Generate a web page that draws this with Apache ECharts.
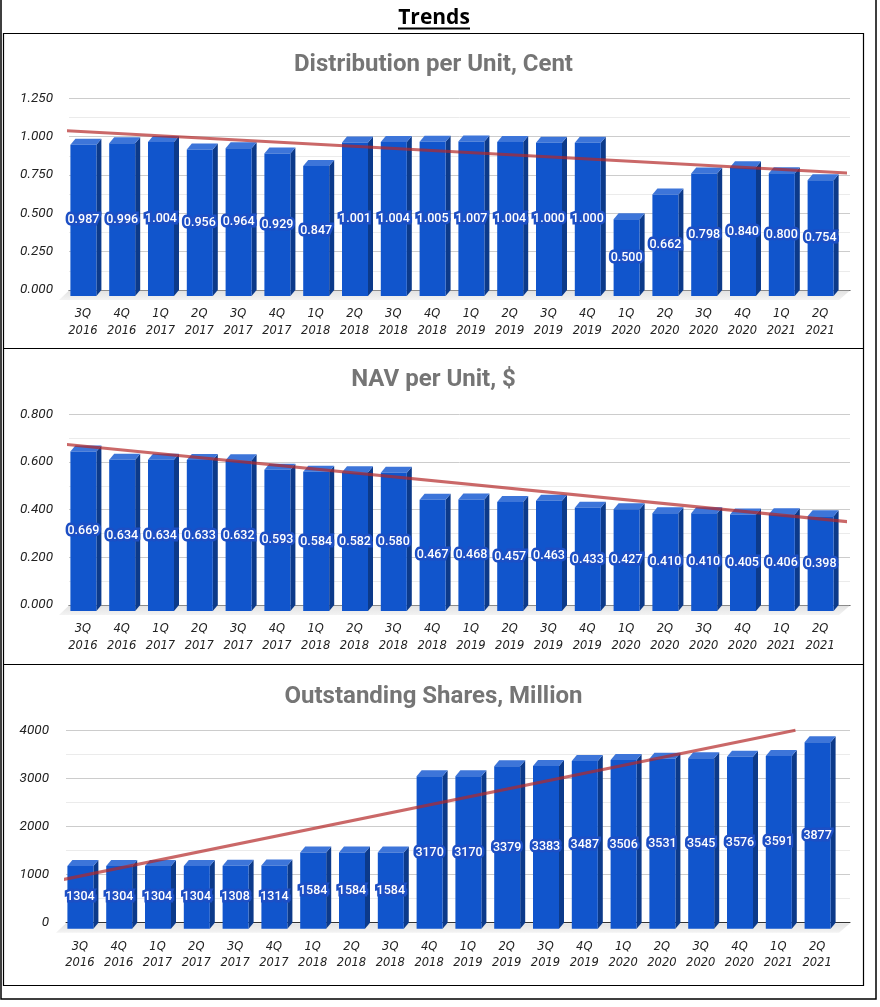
<!DOCTYPE html>
<html>
<head>
<meta charset="utf-8">
<script src="https://cdn.jsdelivr.net/npm/echarts@6/dist/echarts.min.js"></script>
<style>
  html, body { margin: 0; padding: 0; background: #fff; }
  #chart { width: 880px; height: 1007px; }
</style>
</head>
<body>
<div id="chart"></div>
<script>
const quarters = ['3Q 2016', '4Q 2016', '1Q 2017', '2Q 2017', '3Q 2017', '4Q 2017', '1Q 2018', '2Q 2018',
  '3Q 2018', '4Q 2018', '1Q 2019', '2Q 2019', '3Q 2019', '4Q 2019', '1Q 2020', '2Q 2020',
  '3Q 2020', '4Q 2020', '1Q 2021', '2Q 2021']

const distribution = [0.987, 0.996, 1.004, 0.956, 0.964, 0.929, 0.847, 1.001, 1.004, 1.005,
  1.007, 1.004, 1.000, 1.000, 0.500, 0.662, 0.798, 0.840, 0.800, 0.754]
const nav = [0.669, 0.634, 0.634, 0.633, 0.632, 0.593, 0.584, 0.582, 0.580, 0.467,
  0.468, 0.457, 0.463, 0.433, 0.427, 0.410, 0.410, 0.405, 0.406, 0.398]
const shares = [1304, 1304, 1304, 1304, 1308, 1314, 1584, 1584, 1584, 3170,
  3170, 3379, 3383, 3487, 3506, 3531, 3545, 3576, 3591, 3877]

// trend lines: [category position, value]
const distributionTrend = [[-0.26, 1.042], [20.1, 0.762]]
const navTrend = [[-0.26, 0.677], [20.1, 0.349]]
const sharesTrend = [[-0.26, 867], [18.8, 4000]]

const distributionTicks = { min: 0, max: 1.25, interval: 0.25 }
const navTicks = { min: 0, max: 0.8, interval: 0.2 }
const sharesTicks = { min: 0, max: 4000, interval: 1000 }

const panels = [
  { title: 'Distribution per Unit, Cent', values: distribution, trend: distributionTrend, ticks: distributionTicks, digits: 3,
    titleY: 65, top: 98.3, height: 191.7, left: 69 },
  { title: 'NAV per Unit, $', values: nav, trend: navTrend, ticks: navTicks, digits: 3,
    titleY: 380, top: 414.3, height: 190.7, left: 69 },
  { title: 'Outstanding Shares, Million', values: shares, trend: sharesTrend, ticks: sharesTicks, digits: 0,
    titleY: 697, top: 730.3, height: 192.4, left: 66 }
]

const FRONT = '#1155cc'
const TOP = '#3d75d9'
const SIDE = '#0c3a8a'
const DX = 5
const DY = 6

function renderBar(digits) {
  return function (params, api) {
    const idx = api.value(0)
    const val = api.value(1)
    const top = api.coord([idx, val])
    const base = api.coord([idx, 0])
    const half = api.size([1, 0])[0] * 0.335
    const x0 = top[0] - half - DX
    const x1 = top[0] + half - DX
    const yt = top[1] + DY
    const yb = base[1] + DY
    return {
      type: 'group',
      children: [
        { type: 'polygon', shape: { points: [[x1, yt], [x1 + DX, yt - DY], [x1 + DX, yb - DY], [x1, yb]] }, style: { fill: SIDE } },
        { type: 'polygon', shape: { points: [[x0, yt], [x1, yt], [x1 + DX, yt - DY], [x0 + DX, yt - DY]] }, style: { fill: TOP } },
        { type: 'rect', shape: { x: x0, y: yt, width: x1 - x0, height: yb - yt }, style: { fill: FRONT } },
        {
          type: 'text',
          x: (x0 + x1) / 2,
          y: (yt + yb) / 2,
          z2: 10,
          style: {
            text: val.toFixed(digits),
            fill: '#fff',
            stroke: '#1d4fc4',
            lineWidth: 5,
            shadowColor: 'rgba(255,255,255,0.95)',
            shadowBlur: 2,
            font: '500 12.5px Roboto',
            align: 'center',
            verticalAlign: 'middle'
          }
        }
      ]
    }
  }
}

function renderFloor(params) {
  const cs = params.coordSys
  const y = cs.y + cs.height
  return {
    type: 'polygon',
    shape: { points: [[cs.x, y + 0.5], [cs.x + cs.width, y + 0.5], [cs.x + cs.width - 11, y + 10], [cs.x - 10, y + 10]] },
    style: {
      fill: new echarts.graphic.LinearGradient(0, 0, 0, 1, [
        { offset: 0, color: '#e2e2e2' },
        { offset: 1, color: '#f3f3f3' }
      ])
    }
  }
}

const grid = []
const xAxis = []
const yAxis = []
const series = []
const graphic = []

panels.forEach((p, k) => {
  grid.push({ left: p.left, top: p.top, width: 850 - p.left, height: p.height })
  grid.push({ left: p.left, top: p.top, width: 776, height: p.height })

  xAxis.push({
    gridIndex: 2 * k, type: 'value', min: 0, max: 1,
    axisLine: { show: true, lineStyle: { color: '#333', width: 1 } },
    axisTick: { show: false }, axisLabel: { show: false }, splitLine: { show: false }
  })
  xAxis.push({
    gridIndex: 2 * k + 1, type: 'category', data: quarters, position: 'bottom',
    axisLine: { show: false }, axisTick: { show: false },
    axisLabel: {
      interval: 0, margin: 16, padding: [0, 11, 0, 0],
      fontFamily: 'DejaVu Sans', fontStyle: 'italic', fontSize: 11.5, lineHeight: 16.5, color: '#222',
      formatter: (v) => v.replace(' ', '\n')
    }
  })
  xAxis.push({ gridIndex: 2 * k + 1, type: 'value', min: 0, max: 20, show: false })

  yAxis.push({
    gridIndex: 2 * k, type: 'value', min: p.ticks.min, max: p.ticks.max, interval: p.ticks.interval,
    axisLine: { show: false }, axisTick: { show: false },
    axisLabel: {
      margin: p.left === 69 ? 16 : 17,
      fontFamily: 'Roboto', fontStyle: 'italic', fontSize: 13.5, color: '#222',
      formatter: (v) => v.toFixed(p.digits)
    },
    splitLine: { lineStyle: { color: '#cccccc', width: 1 } },
    minorTick: { show: false, splitNumber: 2 },
    minorSplitLine: { show: true, lineStyle: { color: '#ebebeb', width: 1 } }
  })
  yAxis.push({ gridIndex: 2 * k + 1, type: 'value', min: p.ticks.min, max: p.ticks.max, show: false })

  series.push({
    type: 'custom', xAxisIndex: 3 * k, yAxisIndex: 2 * k, z: 1, silent: true,
    renderItem: renderFloor, data: [[0, 0]]
  })
  series.push({
    type: 'custom', xAxisIndex: 3 * k + 1, yAxisIndex: 2 * k + 1, z: 3,
    renderItem: renderBar(p.digits),
    encode: { x: 0, y: 1 },
    data: p.values.map((v, i) => [i, v])
  })
  series.push({
    type: 'line', xAxisIndex: 3 * k + 2, yAxisIndex: 2 * k + 1, z: 5, silent: true,
    clip: false, symbol: 'none',
    lineStyle: { color: 'rgba(180,40,40,0.7)', width: 3 },
    data: p.trend
  })

  graphic.push({
    type: 'text', x: 433.5, y: p.titleY, z: 10,
    style: { text: p.title, font: 'bold 24px Roboto', fill: '#757575', align: 'center', verticalAlign: 'middle' }
  })
})

// frames and page title
graphic.push(
  { type: 'rect', shape: { x: 1, y: -2, width: 875, height: 1001 }, style: { fill: 'none', stroke: '#000', lineWidth: 1.5 } },
  { type: 'rect', shape: { x: 3.5, y: 33.5, width: 860, height: 952 }, style: { fill: 'none', stroke: '#000', lineWidth: 1.2 } },
  { type: 'line', shape: { x1: 3.5, y1: 348.5, x2: 863.5, y2: 348.5 }, style: { stroke: '#000', lineWidth: 1.2 } },
  { type: 'line', shape: { x1: 3.5, y1: 664.5, x2: 863.5, y2: 664.5 }, style: { stroke: '#000', lineWidth: 1.2 } },
  { type: 'text', x: 434, y: 18, style: { text: 'Trends', font: 'bold 21px "Open Sans"', fill: '#000', align: 'center', verticalAlign: 'middle' } },
  { type: 'line', shape: { x1: 398, y1: 28.5, x2: 470, y2: 28.5 }, style: { stroke: '#000', lineWidth: 2 } }
)

const chart = echarts.init(document.getElementById('chart'))
chart.setOption({
  animation: false,
  grid,
  xAxis,
  yAxis,
  series,
  graphic
})
</script>
</body>
</html>
